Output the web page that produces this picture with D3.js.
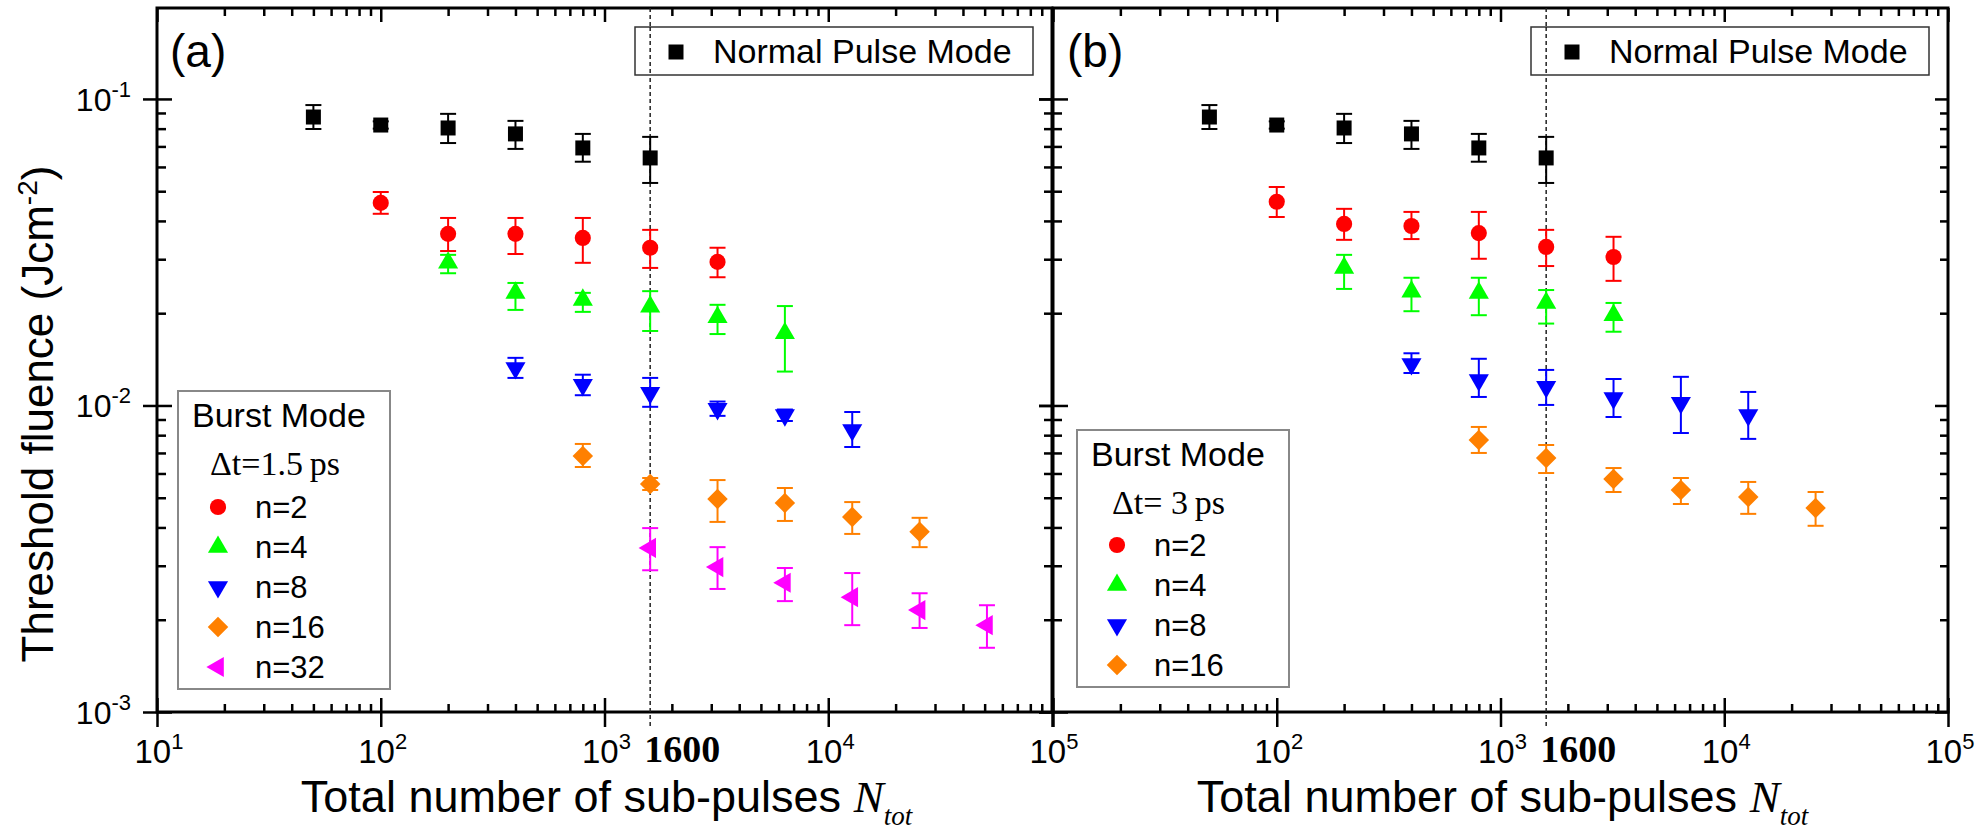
<!DOCTYPE html>
<html lang="en">
<head>
<meta charset="utf-8">
<title>Threshold fluence vs total number of sub-pulses</title>
<script src="https://cdn.jsdelivr.net/npm/d3@7"></script>
<style>
    body { margin: 0; background: #fff; }
    text { font-family: "Liberation Sans", Arial, sans-serif; fill: #000; }
    .serif { font-family: "Liberation Serif", "Times New Roman", serif; }
</style>
</head>
<body>
<svg id="chart" width="1985" height="833"></svg>
<script>
// each row: [N_tot, threshold fluence, error low, error high]  (J/cm^2)
var normalPulse = [
    [50, 0.0873, 0.0798, 0.0955],
    [100, 0.0822, 0.0800, 0.0845],
    [200, 0.0804, 0.0718, 0.0894],
    [400, 0.0769, 0.0687, 0.0848],
    [800, 0.0692, 0.0624, 0.0769],
    [1600, 0.0642, 0.0532, 0.0752]
];

// panel (a), dt = 1.5 ps
var a_n2 = [
    [100, 0.0458, 0.0422, 0.0497],
    [200, 0.0363, 0.0319, 0.0409],
    [400, 0.0363, 0.0312, 0.0409],
    [800, 0.0352, 0.0292, 0.0409],
    [1600, 0.0327, 0.0281, 0.0374],
    [3200, 0.0294, 0.0262, 0.0327]
];
var a_n4 = [
    [200, 0.0292, 0.0270, 0.0310],
    [400, 0.0233, 0.0205, 0.0251],
    [800, 0.0221, 0.0202, 0.0233],
    [1600, 0.0210, 0.0175, 0.0236],
    [3200, 0.0194, 0.0171, 0.0213],
    [6400, 0.0172, 0.0129, 0.0211]
];
var a_n8 = [
    [400, 0.01325, 0.0123, 0.0143],
    [800, 0.01167, 0.0108, 0.0126],
    [1600, 0.0110, 0.0099, 0.0123],
    [3200, 0.00975, 0.00925, 0.0103],
    [6400, 0.0093, 0.0089, 0.0097],
    [12800, 0.00832, 0.00732, 0.00952]
];
var a_n16 = [
    [800, 0.00684, 0.0063, 0.00749],
    [1600, 0.00554, 0.0053, 0.0058],
    [3200, 0.00495, 0.00417, 0.00571],
    [6400, 0.00481, 0.0042, 0.00538],
    [12800, 0.00433, 0.00381, 0.00484],
    [25600, 0.00387, 0.00345, 0.0043]
];
var a_n32 = [
    [1600, 0.00343, 0.0029, 0.00398],
    [3200, 0.00297, 0.00252, 0.00345],
    [6400, 0.00264, 0.0023, 0.00295],
    [12800, 0.00237, 0.00192, 0.00284],
    [25600, 0.00215, 0.00188, 0.00244],
    [51200, 0.00192, 0.00162, 0.00223]
];

// panel (b), dt = 3 ps
var b_n2 = [
    [100, 0.0462, 0.0412, 0.0516],
    [200, 0.0391, 0.0347, 0.0438],
    [400, 0.0385, 0.0349, 0.0428],
    [800, 0.0365, 0.0301, 0.0428],
    [1600, 0.0329, 0.0285, 0.0374],
    [3200, 0.0305, 0.0255, 0.0355]
];
var b_n4 = [
    [200, 0.0281, 0.0240, 0.0310],
    [400, 0.0235, 0.0203, 0.0261],
    [800, 0.0233, 0.0197, 0.0261],
    [1600, 0.0216, 0.0185, 0.0238],
    [3200, 0.0197, 0.0174, 0.0216]
];
var b_n8 = [
    [400, 0.01366, 0.01276, 0.0148],
    [800, 0.0121, 0.01066, 0.0142],
    [1600, 0.0115, 0.01004, 0.01306],
    [3200, 0.01057, 0.00917, 0.0122],
    [6400, 0.0102, 0.00813, 0.0124],
    [12800, 0.0093, 0.00778, 0.01107]
];
var b_n16 = [
    [800, 0.00772, 0.0070, 0.00851],
    [1600, 0.00674, 0.00602, 0.00743],
    [3200, 0.00576, 0.00522, 0.00625],
    [6400, 0.0053, 0.00477, 0.0058],
    [12800, 0.00503, 0.00443, 0.00563],
    [25600, 0.00463, 0.00405, 0.00522]
];

var xMajor = [10, 100, 1000, 10000, 100000];
var xExp = ["1", "2", "3", "4", "5"];
var yMajor = [0.001, 0.01, 0.1];
var yExp = ["-3", "-2", "-1"];
var markLine = 1600;

// note: "top" would clash with window.top
var plotTop = 8, plotBottom = 712;
var svg = d3.select("#chart");

// symbol styles for the series
var sq = {type: d3.symbolSquare, size: 225, rot: 0, color: "#000000"};
var circ = {type: d3.symbolCircle, size: 205, rot: 0, color: "#ff0000"};
var up = {type: d3.symbolTriangle, size: 175, rot: 0, color: "#00ff00"};
var down = {type: d3.symbolTriangle, size: 175, rot: 180, color: "#0000ff"};
var diam = {type: d3.symbolSquare, size: 210, rot: 45, color: "#ff8000"};
var leftTri = {type: d3.symbolTriangle, size: 175, rot: -90, color: "#ff00ff"};

function minorTicks(e0, e1) {
    var out = [];
    for (var e = e0; e < e1; e++) {
        for (var k = 2; k <= 9; k++) out.push(k * Math.pow(10, e));
    }
    return out;
}
var xMinor = minorTicks(1, 5);
var yMinor = minorTicks(-3, -1);

function drawTicks(g, maker, scale, values, size, tr) {
    var ax = g.append("g")
        .attr("transform", tr)
        .call(maker(scale).tickValues(values).tickSize(size).tickSizeOuter(0).tickFormat(""));
    ax.select(".domain").remove();
    ax.selectAll(".tick line").attr("stroke", "#000").attr("stroke-width", 2.5);
}

function marker(g, st, x, y) {
    g.append("path")
        .attr("d", d3.symbol().type(st.type).size(st.size)())
        .attr("transform", "translate(" + x + "," + y + ") rotate(" + st.rot + ")")
        .attr("fill", st.color);
}

function drawPanel(p) {
    var x = d3.scaleLog().domain([10, 100000]).range([p.left, p.right]);
    var y = d3.scaleLog().domain([0.001, 0.198]).range([plotBottom, plotTop]);
    var g = svg.append("g");

    // ticks on all four sides
    drawTicks(g, d3.axisBottom, x, xMajor, -14, "translate(0," + plotBottom + ")");
    drawTicks(g, d3.axisBottom, x, xMajor, 15, "translate(0," + plotBottom + ")");
    drawTicks(g, d3.axisBottom, x, xMinor, -8, "translate(0," + plotBottom + ")");
    drawTicks(g, d3.axisTop, x, xMajor, -14, "translate(0," + plotTop + ")");
    drawTicks(g, d3.axisTop, x, xMinor, -8, "translate(0," + plotTop + ")");
    drawTicks(g, d3.axisLeft, y, yMajor, 14, "translate(" + p.left + ",0)");
    drawTicks(g, d3.axisLeft, y, yMajor, -15, "translate(" + p.left + ",0)");
    drawTicks(g, d3.axisLeft, y, yMinor, -9, "translate(" + p.left + ",0)");
    drawTicks(g, d3.axisRight, y, yMajor, -13, "translate(" + p.right + ",0)");
    drawTicks(g, d3.axisRight, y, yMinor, -8, "translate(" + p.right + ",0)");

    g.append("rect")
        .attr("x", p.left).attr("y", plotTop)
        .attr("width", p.right - p.left).attr("height", plotBottom - plotTop)
        .attr("fill", "none").attr("stroke", "#000").attr("stroke-width", 3);

    // x tick labels
    xMajor.forEach(function(v, i) {
        if (i < p.firstXLabel) return;
        var t = g.append("text").attr("x", x(v) + 2).attr("y", 763)
            .attr("text-anchor", "middle").attr("font-size", 33);
        t.append("tspan").text("10");
        t.append("tspan").attr("font-size", 22).attr("dy", -14).text(xExp[i]);
    });
    // y tick labels
    if (p.yLabels) {
        yMajor.forEach(function(v, i) {
            var t = g.append("text").attr("x", 131).attr("y", y(v) + 12)
                .attr("text-anchor", "end").attr("font-size", 32);
            t.append("tspan").text("10");
            t.append("tspan").attr("font-size", 22).attr("dy", -14).text(yExp[i]);
        });
    }

    // dashed marker at N_tot = 1600
    g.append("line")
        .attr("x1", x(markLine)).attr("x2", x(markLine))
        .attr("y1", plotTop).attr("y2", 728)
        .attr("stroke", "#222").attr("stroke-width", 1.5)
        .attr("stroke-dasharray", "4,3");
    g.append("text").attr("class", "serif")
        .attr("x", x(markLine) - 6).attr("y", 762)
        .attr("font-size", 38).attr("font-weight", "bold")
        .text(String(markLine));

    // x axis title
    var xt = g.append("text")
        .attr("x", (p.left + p.right) / 2 + 2).attr("y", 812)
        .attr("text-anchor", "middle").attr("font-size", 45);
    xt.append("tspan").text("Total number of sub-pulses ");
    xt.append("tspan").attr("class", "serif").attr("font-style", "italic").text("N");
    xt.append("tspan").attr("class", "serif").attr("font-style", "italic")
        .attr("font-size", 27).attr("dy", 13).text("tot");

    // panel tag
    g.append("text").attr("x", p.left + p.tagDx).attr("y", 67)
        .attr("font-size", 46).text(p.tag);

    // normal pulse legend
    var bx = p.right - 19 - 398;
    g.append("rect").attr("x", bx).attr("y", 27).attr("width", 398).attr("height", 48)
        .attr("fill", "#fff").attr("stroke", "#333").attr("stroke-width", 1.5);
    g.append("line")
        .attr("x1", x(markLine)).attr("x2", x(markLine))
        .attr("y1", 27).attr("y2", 75)
        .attr("stroke", "#222").attr("stroke-width", 1.5)
        .attr("stroke-dasharray", "4,3");
    marker(g, sq, bx + 41, 52);
    g.append("text").attr("x", bx + 78).attr("y", 63).attr("font-size", 34)
        .text("Normal Pulse Mode");

    // burst mode legend
    var L = p.burst;
    g.append("rect").attr("x", L.x).attr("y", L.y).attr("width", 212).attr("height", L.h)
        .attr("fill", "#fff").attr("stroke", "#888").attr("stroke-width", 2);
    g.append("text").attr("x", L.x + 14).attr("y", L.y + 36).attr("font-size", 34)
        .text("Burst Mode");
    g.append("text").attr("class", "serif").attr("x", L.x + L.dtDx).attr("y", L.y + 84)
        .attr("font-size", 34).text(L.dt);

    // data: error bars then markers
    var all = [{data: normalPulse, st: sq}].concat(p.series);
    all.forEach(function(s) {
        var sg = g.append("g");
        s.data.forEach(function(d) {
            var cx = x(d[0]);
            sg.append("line").attr("x1", cx).attr("x2", cx)
                .attr("y1", y(d[2])).attr("y2", y(d[3]))
                .attr("stroke", s.st.color).attr("stroke-width", 2);
            [d[2], d[3]].forEach(function(e) {
                sg.append("line").attr("x1", cx - 8).attr("x2", cx + 8)
                    .attr("y1", y(e)).attr("y2", y(e))
                    .attr("stroke", s.st.color).attr("stroke-width", 2);
            });
            marker(sg, s.st, cx, y(d[1]));
        });
    });

    p.series.forEach(function(s, i) {
        var ry = L.y + L.row0 + i * 40;
        marker(g, s.st, L.x + 40, ry);
        g.append("text").attr("x", L.x + 77).attr("y", ry + 11).attr("font-size", 31)
            .text(s.label);
    });
}

drawPanel({
    left: 157, right: 1052, tag: "(a)", tagDx: 13, yLabels: true, firstXLabel: 0,
    burst: {x: 178, y: 391, h: 298, dt: "\u0394t=1.5\u2009ps", dtDx: 32, row0: 116},
    series: [
        {data: a_n2, st: circ, label: "n=2"},
        {data: a_n4, st: up, label: "n=4"},
        {data: a_n8, st: down, label: "n=8"},
        {data: a_n16, st: diam, label: "n=16"},
        {data: a_n32, st: leftTri, label: "n=32"}
    ]
});

drawPanel({
    left: 1053, right: 1948, tag: "(b)", tagDx: 14, yLabels: false, firstXLabel: 1,
    burst: {x: 1077, y: 430, h: 257, dt: "\u0394t= 3\u2009ps", dtDx: 35, row0: 115},
    series: [
        {data: b_n2, st: circ, label: "n=2"},
        {data: b_n4, st: up, label: "n=4"},
        {data: b_n8, st: down, label: "n=8"},
        {data: b_n16, st: diam, label: "n=16"}
    ]
});

// shared y axis title
var yt = svg.append("text")
    .attr("transform", "translate(53,414) rotate(-90)")
    .attr("text-anchor", "middle").attr("font-size", 44);
yt.append("tspan").text("Threshold fluence  (Jcm");
yt.append("tspan").attr("font-size", 28).attr("dy", -16).text("-2");
yt.append("tspan").attr("dy", 16).text(")");
</script>
</body>
</html>
